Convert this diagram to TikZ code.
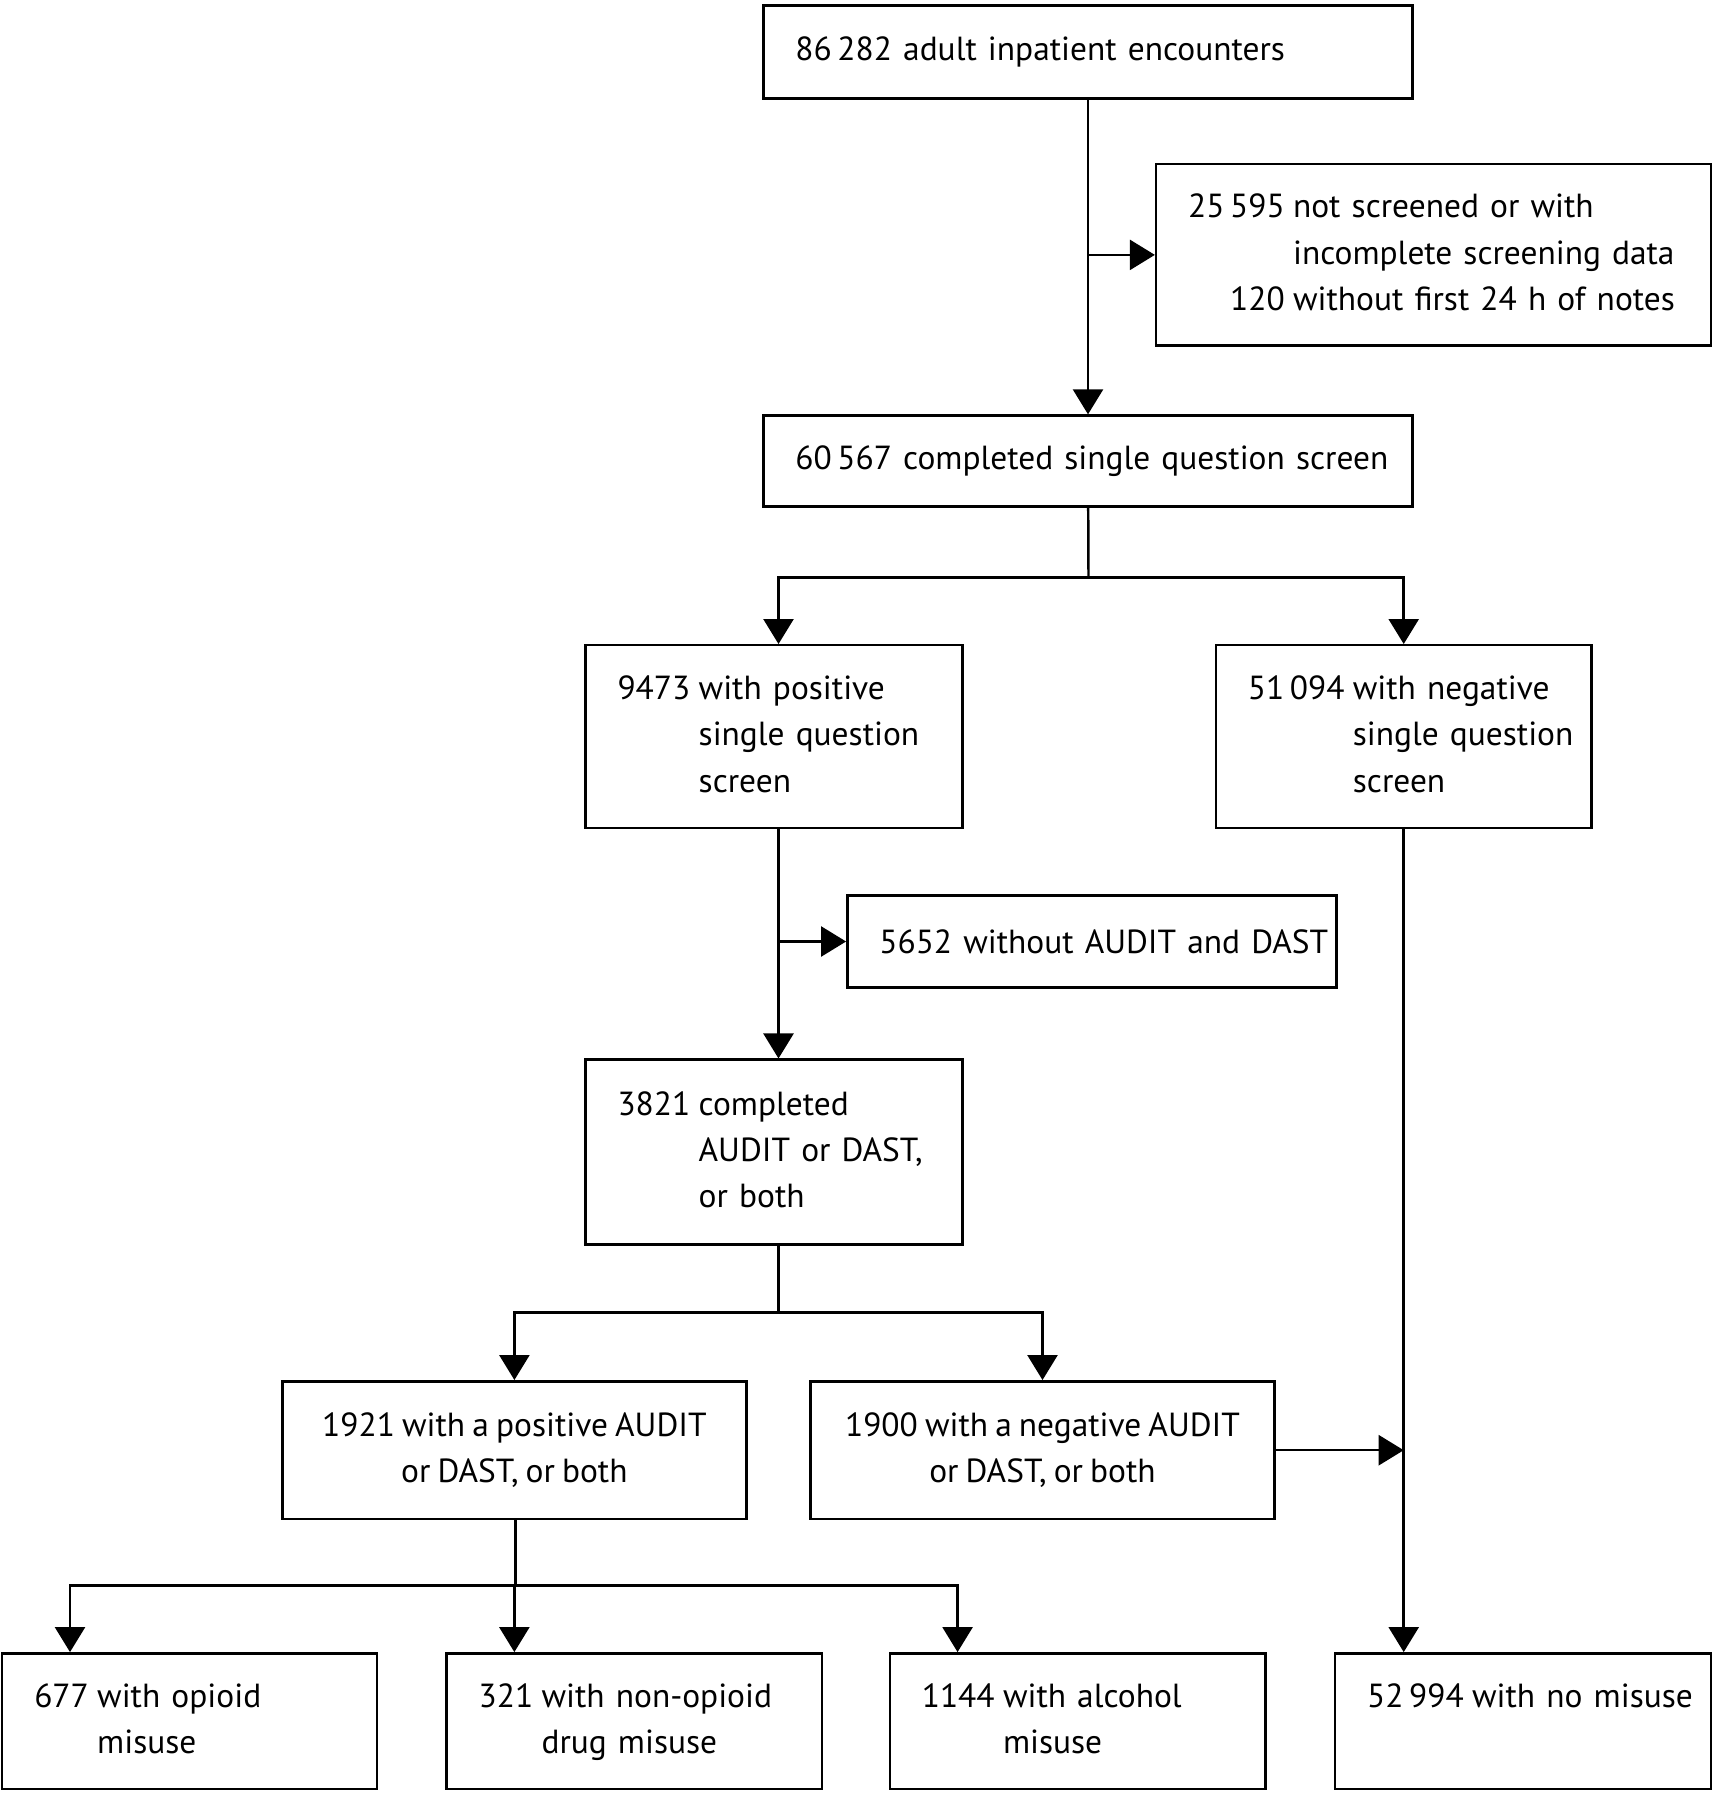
\documentclass[tikz,border=0pt]{standalone}
\usepackage{fontspec}
\setmainfont[WordSpace=0.8]{PT Sans}
\usepackage{tikz}
\usetikzlibrary{arrows.meta,calc}

\newcommand{\hangtext}[2]{\begin{tabular}[c]{@{}l@{\hspace{0.25em}}l@{}}#1&\begin{tabular}[t]{@{}l@{}}#2\end{tabular}\end{tabular}}

\begin{document}
\begin{tikzpicture}[x=0.01cm,y=-0.01cm,
    font=\fontsize{9.5}{13.2}\selectfont,
    line width=0.7pt,
    flowbox/.style={draw,inner xsep=0.32cm,inner ysep=0pt},
    leftbox/.style={flowbox,align=left},
    midbox/.style={flowbox,inner xsep=0.1cm,align=center},
    arr/.style={-{Triangle[length=0.25cm,width=0.3cm]}}]

\useasboundingbox (0,0) rectangle (1712,1800);

\node at (1088,52.2) [leftbox,text width=5.847cm,minimum height=0.93cm] (enc) {\mbox{86\,282 adult inpatient encounters}};
\node at (1433.5,254.9) [leftbox,text width=4.905cm,minimum height=1.814cm] (excl) {\begin{tabular}{@{}r@{\hspace{0.25em}}l@{}}25\,595&not screened or with\\&incomplete screening data\\120&without first 24 h of notes\end{tabular}};
\node at (1088,461) [leftbox,text width=5.847cm,minimum height=0.908cm] (single) {\mbox{60\,567 completed single question screen}};
\node at (773.9,736.6) [leftbox,text width=3.126cm,minimum height=1.826cm] (pos) {\hangtext{9473}{with positive\\single question\\screen}};
\node at (1403.7,736.6) [leftbox,text width=3.114cm,minimum height=1.826cm] (neg) {\hangtext{51\,094}{with negative\\single question\\screen}};
\node at (1092,941.5) [leftbox,text width=4.251cm,minimum height=0.919cm] (noaud) {\mbox{5652 without AUDIT and DAST}};
\node at (773.9,1152.2) [leftbox,text width=3.126cm,minimum height=1.849cm] (done) {\hangtext{3821}{completed\\AUDIT or DAST,\\or both}};
\node at (514.4,1450.2) [midbox,minimum width=4.638cm,minimum height=1.378cm] (posaud) {1921 with a positive AUDIT\\or DAST, or both};
\node at (1042.5,1450.2) [midbox,minimum width=4.639cm,minimum height=1.378cm] (negaud) {1900 with a negative AUDIT\\or DAST, or both};
\node at (189.5,1721.1) [leftbox,text width=3.103cm,minimum height=1.355cm] (opioid) {\hangtext{677}{with opioid\\misuse}};
\node at (634.4,1721.1) [leftbox,text width=3.114cm,minimum height=1.355cm] (drug) {\hangtext{321}{with non-opioid\\drug misuse}};
\node at (1077.6,1721.1) [leftbox,text width=3.114cm,minimum height=1.355cm] (alc) {\hangtext{1144}{with alcohol\\misuse}};
\node at (1523,1721.1) [leftbox,text width=3.115cm,minimum height=1.355cm] (nomis) {\hangtext{52\,994}{with no misuse\\\mbox{}}};

\coordinate (split1) at (1088.5,577.5);
\coordinate (split2) at (778.5,1312.4);
\coordinate (split3) at (515.5,1585.7);
\coordinate (posdrop) at ($(pos.south)+(4.6,0)$);

\draw[arr] (enc) -- (single);
\draw[arr] (enc.south |- excl.west) -- (excl);

\draw (single) -- (split1);
\draw[arr] (split1) -| ($(pos.north)+(4.6,0)$);
\draw[arr] (split1) -| (neg.north);

\draw[arr] (posdrop) -- (posdrop |- done.north);
\draw[arr] (posdrop |- noaud.west) -- (noaud);

\draw (done.south -| split2) -- (split2);
\draw[arr] (split2) -| (posaud.north);
\draw[arr] (split2) -| (negaud.north);

\draw[arr] (neg) -- (neg.south |- nomis.north);
\draw[arr] (negaud) -- (negaud.east -| neg.south);

\draw (posaud.south -| split3) -- (split3);
\draw[arr] (split3) -| ($(opioid.north west)+(69,0)$);
\draw[arr] (split3) -| ($(drug.north west)+(69,0)$);
\draw[arr] (split3) -| ($(alc.north west)+(69,0)$);

\end{tikzpicture}
\end{document}
